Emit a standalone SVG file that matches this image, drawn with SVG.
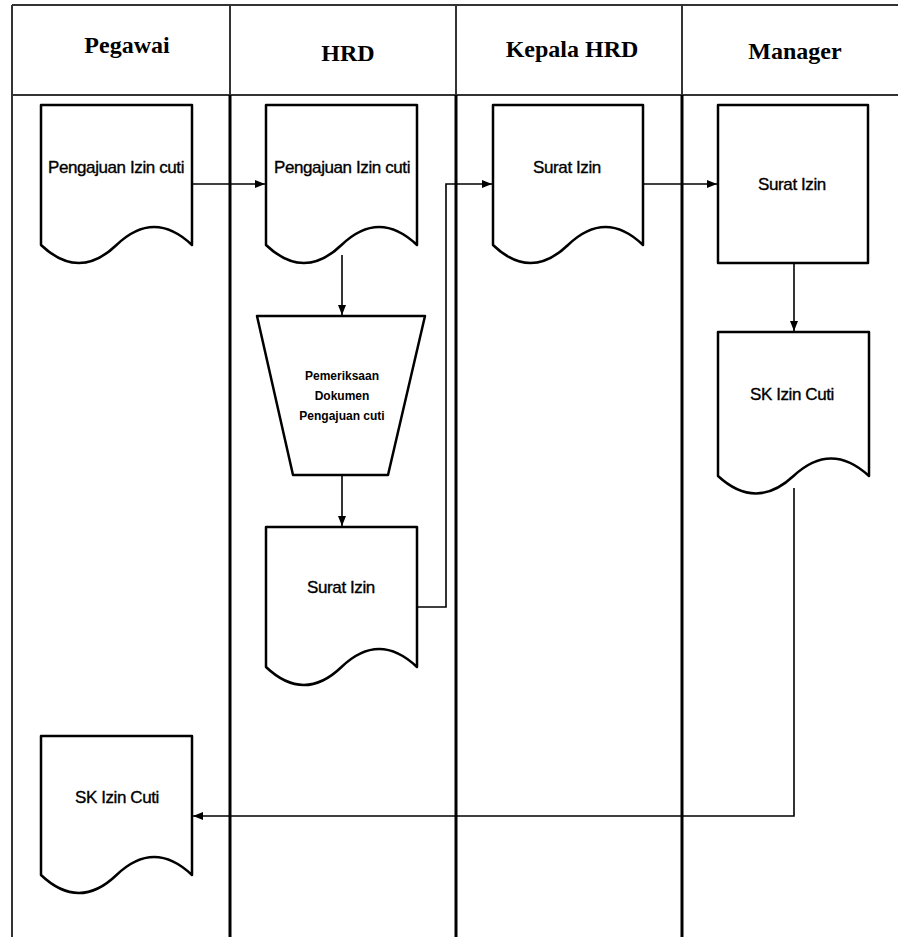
<svg xmlns="http://www.w3.org/2000/svg" width="898" height="937" viewBox="0 0 898 937">
  <style>
    .lane-hdr { font-family: "Liberation Serif", "Times New Roman", serif; font-size: 24px; font-weight: bold; fill: #000; text-anchor: middle; }
    .grid-thin { stroke: #333; stroke-width: 2; fill: none; }
    .grid-thick { stroke: #000; stroke-width: 3; fill: none; }
    .shape { fill: #fff; stroke: #000; stroke-width: 2.5; stroke-linejoin: round; }
    .label { font-family: "Liberation Sans", Arial, sans-serif; font-size: 17px; fill: #000; stroke: #000; stroke-width: 0.35; text-anchor: middle; letter-spacing: -0.4px; }
    .label-sm { font-family: "Liberation Sans", Arial, sans-serif; font-size: 12px; font-weight: bold; fill: #000; text-anchor: middle; }
    .conn { fill: none; stroke: #000; stroke-width: 1.6; }
  </style>
  <defs>
    <marker id="arrow" markerUnits="userSpaceOnUse" markerWidth="10" markerHeight="10" viewBox="0 0 10 10" refX="10" refY="5" orient="auto">
      <path d="M0,1 L10,5 L0,9 Z" fill="#000"/>
    </marker>
  </defs>

  <rect x="0" y="0" width="898" height="937" fill="#fff"/>

  <!-- swimlane grid -->
  <g id="lanes">
    <line class="grid-thin" x1="12" y1="5" x2="898" y2="5"/>
    <line class="grid-thin" x1="12" y1="95" x2="898" y2="95"/>
    <line class="grid-thin" x1="12" y1="5" x2="12" y2="937"/>
    <line class="grid-thin" x1="230" y1="5" x2="230" y2="95"/>
    <line class="grid-thin" x1="456" y1="5" x2="456" y2="95"/>
    <line class="grid-thin" x1="682" y1="5" x2="682" y2="95"/>
    <line class="grid-thick" x1="230" y1="95" x2="230" y2="937"/>
    <line class="grid-thick" x1="456" y1="95" x2="456" y2="937"/>
    <line class="grid-thick" x1="682" y1="95" x2="682" y2="937"/>
    <text class="lane-hdr" x="127" y="53">Pegawai</text>
    <text class="lane-hdr" x="348" y="61">HRD</text>
    <text class="lane-hdr" x="572" y="57">Kepala HRD</text>
    <text class="lane-hdr" x="795" y="59">Manager</text>
  </g>

  <!-- connectors -->
  <g id="connectors">
    <path class="conn" d="M192,184 H265" marker-end="url(#arrow)"/>
    <path class="conn" d="M342,255 V315" marker-end="url(#arrow)"/>
    <path class="conn" d="M342,475 V526" marker-end="url(#arrow)"/>
    <path class="conn" d="M417,607 H446 V184 H492" marker-end="url(#arrow)"/>
    <path class="conn" d="M643,184 H717" marker-end="url(#arrow)"/>
    <path class="conn" d="M794,263 V331" marker-end="url(#arrow)"/>
    <path class="conn" d="M794,488 V816 H193" marker-end="url(#arrow)"/>
  </g>

  <!-- Pegawai: leave request document -->
  <g id="pegawai-pengajuan">
    <path class="shape" d="M41,105 H192 V245 Q154,209 116.5,245 T41,245 Z"/>
    <text class="label" x="116" y="173">Pengajuan Izin cuti</text>
  </g>

  <!-- HRD: received leave request -->
  <g id="hrd-pengajuan">
    <path class="shape" d="M266,105 H417 V245 Q379,209 341.5,245 T266,245 Z"/>
    <text class="label" x="342" y="173">Pengajuan Izin cuti</text>
  </g>

  <!-- HRD: manual document check -->
  <g id="hrd-pemeriksaan">
    <path class="shape" d="M257,316 H425 L388,475 H293 Z"/>
    <text class="label-sm" x="342" y="380">Pemeriksaan</text>
    <text class="label-sm" x="342" y="400">Dokumen</text>
    <text class="label-sm" x="342" y="420">Pengajuan cuti</text>
  </g>

  <!-- HRD: permit letter -->
  <g id="hrd-surat">
    <path class="shape" d="M266,527 H417 V667 Q379,631 341.5,667 T266,667 Z"/>
    <text class="label" x="341" y="593">Surat Izin</text>
  </g>

  <!-- Kepala HRD: permit letter -->
  <g id="kepala-surat">
    <path class="shape" d="M493,105 H643 V245 Q605.5,209 568,245 T493,245 Z"/>
    <text class="label" x="567" y="173">Surat Izin</text>
  </g>

  <!-- Manager: permit letter review -->
  <g id="manager-surat">
    <rect class="shape" x="718" y="105" width="150" height="158"/>
    <text class="label" x="792" y="190">Surat Izin</text>
  </g>

  <!-- Manager: leave decree -->
  <g id="manager-sk">
    <path class="shape" d="M718,332 H869 V476 Q831,441 793.5,476 T718,476 Z"/>
    <text class="label" x="792" y="400">SK Izin Cuti</text>
  </g>

  <!-- Pegawai: leave decree received -->
  <g id="pegawai-sk">
    <path class="shape" d="M41,736 H192 V875 Q154,839 116.5,875 T41,875 Z"/>
    <text class="label" x="117" y="803">SK Izin Cuti</text>
  </g>
</svg>
